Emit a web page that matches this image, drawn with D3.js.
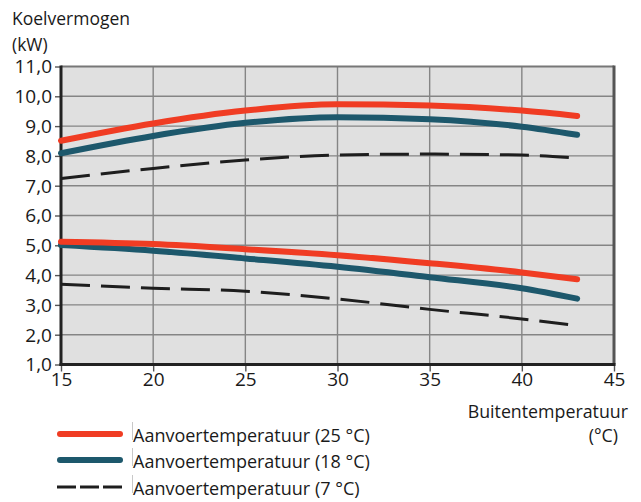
<!DOCTYPE html>
<html><head><meta charset="utf-8">
<script src="https://cdn.jsdelivr.net/npm/d3@7"></script>
<style>
body{margin:0;background:#fff;}
text{font-family:"Open Sans",sans-serif;fill:#1a1a1a;}
</style></head>
<body><svg id="c" width="641" height="502"></svg>
<script>
const xValues = [15, 20, 25, 30, 35, 40, 43];
const red25High = [8.51, 9.09, 9.52, 9.73, 9.69, 9.52, 9.34];
const blue18High = [8.09, 8.67, 9.11, 9.30, 9.23, 8.98, 8.71];
const black7High = [7.24, 7.58, 7.86, 8.03, 8.06, 8.03, 7.93];
const red25Low = [5.12, 5.04, 4.87, 4.67, 4.40, 4.09, 3.86];
const blue18Low = [5.01, 4.82, 4.56, 4.28, 3.93, 3.56, 3.21];
const black7Low = [3.69, 3.56, 3.46, 3.20, 2.85, 2.53, 2.30];
const xTicks = [15, 20, 25, 30, 35, 40, 45];
const yTicks = [1, 2, 3, 4, 5, 6, 7, 8, 9, 10, 11];
const legendLabels = ["Aanvoertemperatuur (25 °C)", "Aanvoertemperatuur (18 °C)", "Aanvoertemperatuur (7 °C)"];

const svg = d3.select("#c");
const L = 61, R = 614, T = 66.5, B = 364.5;
const x = d3.scaleLinear().domain([15, 45]).range([L, R]);
const y = d3.scaleLinear().domain([1, 11]).range([B, T]);

svg.append("rect").attr("x", L).attr("y", T).attr("width", R - L).attr("height", B - T).attr("fill", "#e0e0e0");

// grid
svg.append("g").selectAll("line").data(xTicks.slice(1, -1)).join("line")
  .attr("x1", d => x(d)).attr("x2", d => x(d)).attr("y1", T).attr("y2", B)
  .attr("stroke", "#858585").attr("stroke-width", 1.4);
svg.append("g").selectAll("line").data(yTicks.slice(1, -1)).join("line")
  .attr("x1", L).attr("x2", R).attr("y1", d => y(d)).attr("y2", d => y(d))
  .attr("stroke", "#858585").attr("stroke-width", 1.4);
// top and right border
svg.append("line").attr("x1", L).attr("x2", R).attr("y1", T).attr("y2", T).attr("stroke", "#777").attr("stroke-width", 2);
svg.append("line").attr("x1", R).attr("x2", R).attr("y1", T - 1).attr("y2", B).attr("stroke", "#555").attr("stroke-width", 3);

// axes
const yAxis = d3.axisLeft(y).tickValues(yTicks).tickSize(6).tickPadding(3)
  .tickFormat(d => d3.format(".1f")(d).replace(".", ","));
const gy = svg.append("g").attr("transform", `translate(${L},0)`).call(yAxis);
gy.select(".domain").remove();
gy.selectAll(".tick line").attr("stroke", "#555").attr("stroke-width", 1.4);
gy.selectAll("text").attr("font-size", 19).attr("fill", "#1a1a1a").attr("dy", "0.34em");

const xAxis = d3.axisBottom(x).tickValues(xTicks).tickSize(7).tickPadding(3);
const gx = svg.append("g").attr("transform", `translate(0,${B})`).call(xAxis);
gx.select(".domain").remove();
gx.selectAll(".tick line").attr("stroke", "#555").attr("stroke-width", 1.4);
gx.selectAll("text").attr("font-size", 19).attr("fill", "#1a1a1a").attr("dy", "0.62em");

svg.append("line").attr("x1", L).attr("x2", L).attr("y1", T - 1).attr("y2", B + 1.5).attr("stroke", "#222").attr("stroke-width", 3);
svg.append("line").attr("x1", L - 1.5).attr("x2", R + 1.5).attr("y1", B).attr("y2", B).attr("stroke", "#222").attr("stroke-width", 3);

// lines
const line = d3.line().x((d, i) => x(xValues[i])).y(d => y(d)).curve(d3.curveMonotoneX);
const series = [
  {v: black7High, c: "#1e1e1e", w: 3, dash: "29,11"},
  {v: black7Low, c: "#1e1e1e", w: 3, dash: "29,11"},
  {v: blue18High, c: "#1d586c", w: 6},
  {v: blue18Low, c: "#1d586c", w: 6},
  {v: red25High, c: "#f03c23", w: 6},
  {v: red25Low, c: "#f03c23", w: 6}
];
series.forEach(s => {
  svg.append("path").attr("d", line(s.v)).attr("fill", "none").attr("stroke", s.c)
    .attr("stroke-width", s.w).attr("stroke-linecap", s.dash ? "butt" : "round")
    .attr("stroke-dasharray", s.dash || null);
});

// axis titles
svg.append("text").attr("x", 12).attr("y", 25).attr("font-size", 17.5).text("Koelvermogen");
svg.append("text").attr("x", 12).attr("y", 51).attr("font-size", 17.5).text("(kW)");
svg.append("text").attr("x", 628).attr("y", 418).attr("font-size", 17.8).attr("text-anchor", "end").text("Buitentemperatuur");
svg.append("text").attr("x", 618).attr("y", 442).attr("font-size", 17.8).attr("text-anchor", "end").text("(°C)");

// legend
const legColors = ["#f03c23", "#1d586c", "#1e1e1e"];
const legY = [434, 460, 487];
legendLabels.forEach((lab, i) => {
  const ln = svg.append("line").attr("x1", 60).attr("x2", 120).attr("y1", legY[i]).attr("y2", legY[i])
    .attr("stroke", legColors[i]).attr("stroke-width", i < 2 ? 6 : 3);
  if (i < 2) ln.attr("stroke-linecap", "round");
  else ln.attr("x1", 57).attr("x2", 123).attr("stroke-dasharray", "19,4");
  svg.append("line").attr("x1", 132.5).attr("x2", 132.5).attr("y1", legY[i] - 12).attr("y2", legY[i] + 6)
    .attr("stroke", "#c8c8c8").attr("stroke-width", 1);
  svg.append("text").attr("x", 133).attr("y", legY[i] + 7.5).attr("font-size", 18).text(lab);
});
</script></body></html>
